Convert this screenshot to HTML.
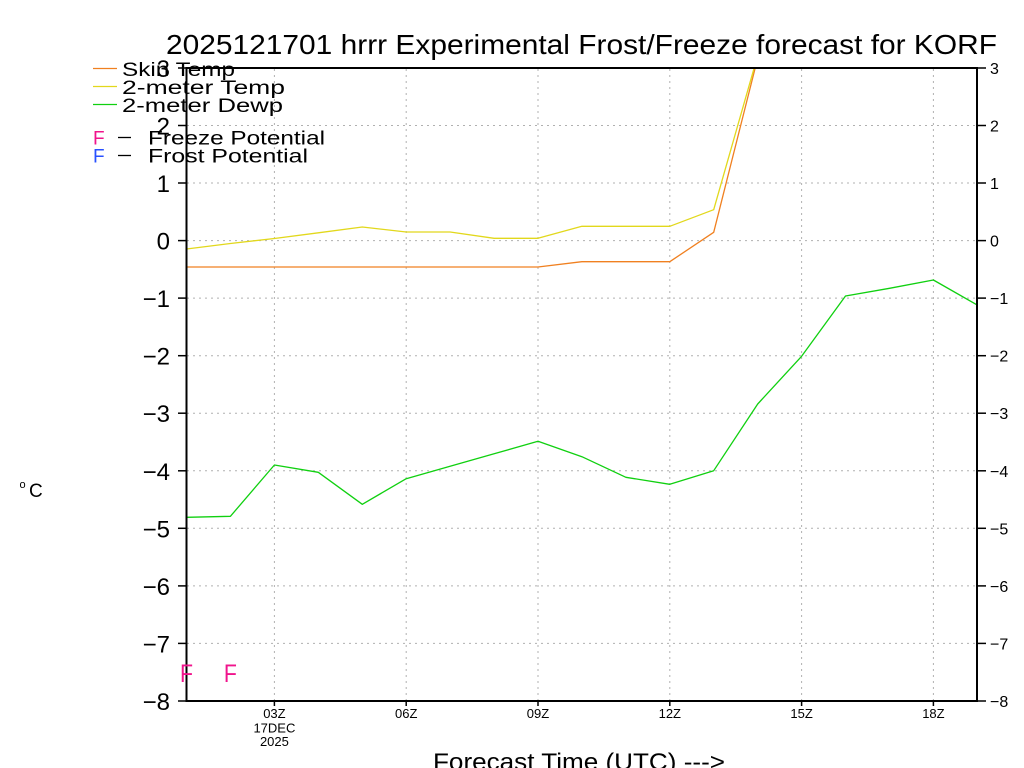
<!DOCTYPE html>
<html><head><meta charset="utf-8"><style>
html,body{margin:0;padding:0;background:#fff;}
svg{display:block;}
text{font-family:"Liberation Sans",sans-serif;fill:#000;}
</style></head><body>
<svg width="1024" height="768" viewBox="0 0 1024 768" xmlns="http://www.w3.org/2000/svg">
<defs><clipPath id="pc"><rect x="186.5" y="68" width="790.5" height="633"/></clipPath></defs>
<!-- grid -->
<g stroke="#b0b0b0" stroke-width="1" stroke-dasharray="2,4" fill="none">
<line x1="187" y1="125.5" x2="976" y2="125.5"/>
<line x1="187" y1="183" x2="976" y2="183"/>
<line x1="187" y1="240.6" x2="976" y2="240.6"/>
<line x1="187" y1="298.1" x2="976" y2="298.1"/>
<line x1="187" y1="355.7" x2="976" y2="355.7"/>
<line x1="187" y1="413.2" x2="976" y2="413.2"/>
<line x1="187" y1="470.8" x2="976" y2="470.8"/>
<line x1="187" y1="528.3" x2="976" y2="528.3"/>
<line x1="187" y1="585.9" x2="976" y2="585.9"/>
<line x1="187" y1="643.4" x2="976" y2="643.4"/>
<line x1="274.4" y1="69" x2="274.4" y2="700"/>
<line x1="406.2" y1="69" x2="406.2" y2="700"/>
<line x1="538" y1="69" x2="538" y2="700"/>
<line x1="669.8" y1="69" x2="669.8" y2="700"/>
<line x1="801.6" y1="69" x2="801.6" y2="700"/>
<line x1="933.4" y1="69" x2="933.4" y2="700"/>
</g>
<!-- series -->
<g clip-path="url(#pc)" fill="none" stroke-width="1.3" stroke-linejoin="round">
<polyline stroke="#f08020" points="186.5,267 230.4,267 274.4,267 318.3,267 362.3,267 406.2,267 450.1,267 494.1,267 538,267 581.9,261.7 625.9,261.7 669.8,261.7 713.7,232.3 757.7,58"/>
<polyline stroke="#e2d81c" points="186.5,249 230.4,243.5 274.4,238.5 318.3,232.8 362.3,227 406.2,232 450.1,232 494.1,238.3 538,238.3 581.9,226.3 625.9,226.3 669.8,226.3 713.7,209.7 757.7,55.5"/>
<polyline stroke="#10d010" points="186.5,517.3 230.4,516.3 274.4,465 318.3,472.3 362.3,504.3 406.2,478.7 450.1,466.2 494.1,453.8 538,441.3 581.9,456.7 625.9,477.3 669.8,484.3 713.7,470.7 757.7,404 801.6,356.3 845.5,296 889.5,288.3 933.4,280 977.3,305"/>
</g>
<!-- axes -->
<rect x="186.5" y="68" width="790.5" height="633" fill="none" stroke="#000" stroke-width="2"/>
<!-- ticks -->
<g stroke="#000" stroke-width="1.5">
<line x1="178" y1="68" x2="186" y2="68"/><line x1="178" y1="125.5" x2="186" y2="125.5"/>
<line x1="178" y1="183" x2="186" y2="183"/><line x1="178" y1="240.6" x2="186" y2="240.6"/>
<line x1="178" y1="298.1" x2="186" y2="298.1"/><line x1="178" y1="355.7" x2="186" y2="355.7"/>
<line x1="178" y1="413.2" x2="186" y2="413.2"/><line x1="178" y1="470.8" x2="186" y2="470.8"/>
<line x1="178" y1="528.3" x2="186" y2="528.3"/><line x1="178" y1="585.9" x2="186" y2="585.9"/>
<line x1="178" y1="643.4" x2="186" y2="643.4"/><line x1="178" y1="701" x2="186" y2="701"/>
<line x1="977" y1="68" x2="986" y2="68"/><line x1="977" y1="125.5" x2="986" y2="125.5"/>
<line x1="977" y1="183" x2="986" y2="183"/><line x1="977" y1="240.6" x2="986" y2="240.6"/>
<line x1="977" y1="298.1" x2="986" y2="298.1"/><line x1="977" y1="355.7" x2="986" y2="355.7"/>
<line x1="977" y1="413.2" x2="986" y2="413.2"/><line x1="977" y1="470.8" x2="986" y2="470.8"/>
<line x1="977" y1="528.3" x2="986" y2="528.3"/><line x1="977" y1="585.9" x2="986" y2="585.9"/>
<line x1="977" y1="643.4" x2="986" y2="643.4"/><line x1="977" y1="701" x2="986" y2="701"/>
<line x1="274.4" y1="701" x2="274.4" y2="706"/><line x1="406.2" y1="701" x2="406.2" y2="706"/>
<line x1="538" y1="701" x2="538" y2="706"/><line x1="669.8" y1="701" x2="669.8" y2="706"/>
<line x1="801.6" y1="701" x2="801.6" y2="706"/><line x1="933.4" y1="701" x2="933.4" y2="706"/>
</g>
<!-- left labels -->
<g font-size="24" text-anchor="end">
<text x="170" y="77">3</text><text x="170" y="134.5">2</text><text x="170" y="192">1</text>
<text x="170" y="249.6">0</text><text x="170" y="307.1">−1</text><text x="170" y="364.7">−2</text>
<text x="170" y="422.2">−3</text><text x="170" y="479.8">−4</text><text x="170" y="537.3">−5</text>
<text x="170" y="594.9">−6</text><text x="170" y="652.4">−7</text><text x="170" y="710">−8</text>
</g>
<!-- right labels -->
<g font-size="16">
<text x="990" y="74">3</text><text x="990" y="131.5">2</text><text x="990" y="189">1</text>
<text x="990" y="246.6">0</text><text x="990" y="304.1">−1</text><text x="990" y="361.7">−2</text>
<text x="990" y="419.2">−3</text><text x="990" y="476.8">−4</text><text x="990" y="534.3">−5</text>
<text x="990" y="591.9">−6</text><text x="990" y="649.4">−7</text><text x="990" y="707">−8</text>
</g>
<!-- x labels -->
<g font-size="13" text-anchor="middle">
<text x="274.4" y="718">03Z</text><text x="274.4" y="732.5">17DEC</text><text x="274.4" y="746">2025</text>
<text x="406.2" y="718">06Z</text><text x="538" y="718">09Z</text><text x="669.8" y="718">12Z</text>
<text x="801.6" y="718">15Z</text><text x="933.4" y="718">18Z</text>
</g>
<!-- title -->
<text x="166" y="54" font-size="28" textLength="831" lengthAdjust="spacingAndGlyphs">2025121701 hrrr Experimental Frost/Freeze forecast for KORF</text>
<!-- x title -->
<text x="433" y="770" font-size="24" textLength="292" lengthAdjust="spacingAndGlyphs">Forecast Time (UTC) ---&gt;</text>
<!-- unit -->
<text x="19.5" y="488" font-size="11">o</text>
<text x="29" y="497" font-size="19">C</text>
<!-- legend -->
<g stroke-width="1.3">
<line x1="93" y1="68.5" x2="117" y2="68.5" stroke="#f08020"/>
<line x1="93" y1="86.5" x2="117" y2="86.5" stroke="#e2d81c"/>
<line x1="93" y1="104.5" x2="117" y2="104.5" stroke="#10d010"/>
<line x1="118" y1="137.5" x2="131" y2="137.5" stroke="#000"/>
<line x1="118" y1="155.5" x2="131" y2="155.5" stroke="#000"/>
</g>
<g font-size="19">
<text x="122" y="76" textLength="113" lengthAdjust="spacingAndGlyphs">Skin Temp</text>
<text x="122" y="94" textLength="163" lengthAdjust="spacingAndGlyphs">2-meter Temp</text>
<text x="122" y="112" textLength="161" lengthAdjust="spacingAndGlyphs">2-meter Dewp</text>
<text x="93" y="144.5" style="fill:#f0148c">F</text>
<text x="148" y="144.5" textLength="177" lengthAdjust="spacingAndGlyphs">Freeze Potential</text>
<text x="93" y="162.5" style="fill:#2850ff">F</text>
<text x="148" y="162.5" textLength="160" lengthAdjust="spacingAndGlyphs">Frost Potential</text>
</g>
<!-- freeze markers -->
<g font-size="25" text-anchor="middle">
<text x="186.5" y="682" style="fill:#f0148c" textLength="13" lengthAdjust="spacingAndGlyphs">F</text>
<text x="230.4" y="682" style="fill:#f0148c" textLength="13" lengthAdjust="spacingAndGlyphs">F</text>
</g>
</svg>
</body></html>
